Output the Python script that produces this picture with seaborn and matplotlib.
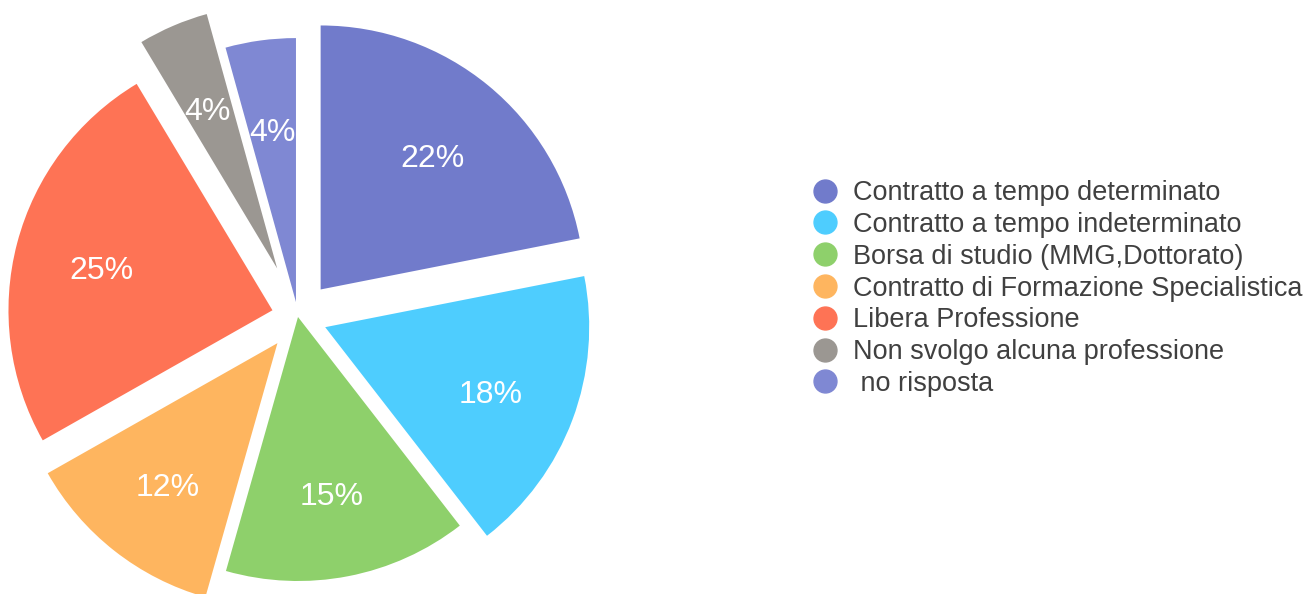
import matplotlib
matplotlib.use("Agg")
import matplotlib.pyplot as plt
from matplotlib.lines import Line2D
import matplotlib.transforms as mtransforms
import seaborn as sns

categories = ["Contratto a tempo determinato", "Contratto a tempo indeterminato",
              "Borsa di studio (MMG,Dottorato)", "Contratto di Formazione Specialistica",
              "Libera Professione", "Non svolgo alcuna professione", " no risposta"]
values = [21.9, 17.6, 14.9, 12.4, 24.6, 4.3, 4.3]
colors = ["#717BCB", "#4ECDFE", "#8ED06B", "#FEB55F", "#FE7355", "#9B9792", "#7F88D3"]
explode = [0.135, 0.11, 0.0, 0.126, 0.10, 0.20, 0.057]

sns.set_theme(style="white")
plt.rcParams["font.family"] = ["Liberation Sans", "DejaVu Sans"]

W, H = 1303, 594
fig = plt.figure(figsize=(W / 100, H / 100), dpi=100)
S = 660
cx, cy = 298, 317
ax = fig.add_axes([(cx - S / 2) / W, (H - cy - S / 2) / H, S / W, S / H])

palette = sns.color_palette(colors)
wedges, texts, autotexts = ax.pie(values, colors=palette, explode=explode, startangle=90,
                                  counterclock=False, radius=1.0,
                                  autopct=lambda p: f"{p:.0f}%", pctdistance=0.67,
                                  wedgeprops=dict(linewidth=0))
ax.set_xlim(-1.25, 1.25)
ax.set_ylim(-1.25, 1.25)
ax.set_aspect("equal")
ax.axis("off")
shift = mtransforms.ScaledTranslation(0, -6 / 100, fig.dpi_scale_trans)
for t in autotexts:
    t.set_color("white")
    t.set_fontsize(23)
    t.set_transform(t.get_transform() + shift)

handles = [Line2D([0], [0], marker="o", linestyle="", markersize=16.5,
                  markerfacecolor=c, markeredgecolor=c) for c in colors]
leg = fig.legend(handles, categories, loc="center left",
                 bbox_to_anchor=(812.5 / W, (H - 288.5) / H), frameon=False,
                 fontsize=19.5, handlelength=0.92, handletextpad=0.57,
                 labelspacing=0.215, borderpad=0, borderaxespad=0)
for t in leg.get_texts():
    t.set_color("#404040")

fig.savefig("out.png", dpi=100)
